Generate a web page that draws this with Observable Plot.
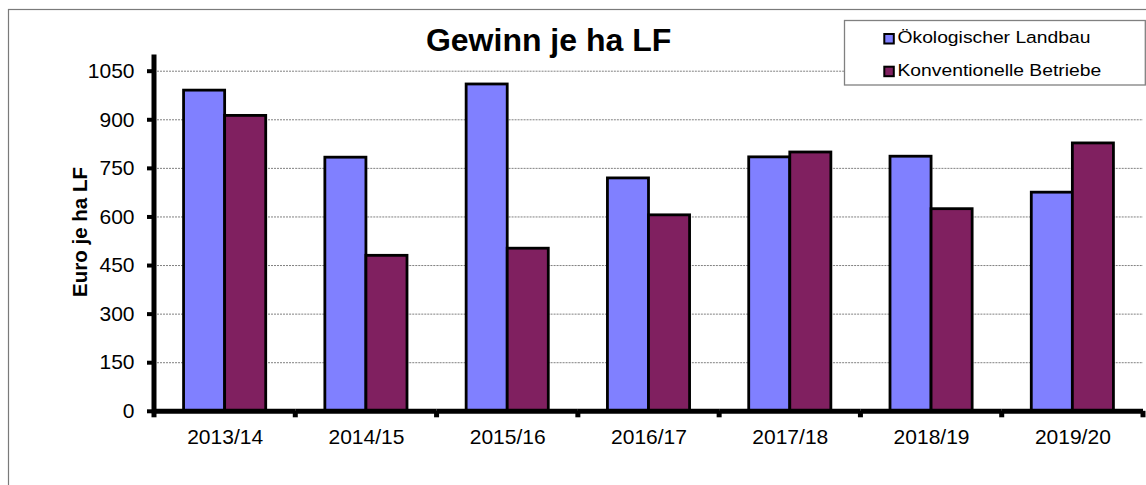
<!DOCTYPE html>
<html>
<head>
<meta charset="utf-8">
<script src="https://cdn.jsdelivr.net/npm/d3@7"></script>
<script src="https://cdn.jsdelivr.net/npm/@observablehq/plot@0.6"></script>
<style>
  html, body { margin: 0; padding: 0; background: #fff; overflow: hidden; }
  #chart { width: 1146px; height: 485px; }
</style>
</head>
<body>
<div id="chart"></div>
<script>
// ---- data ----
const years = ["2013/14", "2014/15", "2015/16", "2016/17", "2017/18", "2018/19", "2019/20"];
const oekoValues = [990, 783, 1009, 719, 784, 786, 675];
const konvValues = [912, 480, 502, 605, 799, 624, 827];
const seriesNames = ["Ökologischer Landbau", "Konventionelle Betriebe"];
const seriesColors = ["#8080FF", "#802060"];
const yTicks = [0, 150, 300, 450, 600, 750, 900, 1050];
const yMax = 1100;
const titleText = "Gewinn je ha LF";
const yLabelText = "Euro je ha LF";

const table = [];
years.forEach((yr, i) => {
  table.push({year: yr, series: seriesNames[0], value: oekoValues[i]});
  table.push({year: yr, series: seriesNames[1], value: konvValues[i]});
});

const FONT = "'Liberation Sans', Arial, Helvetica, sans-serif";

const chart = Plot.plot({
  width: 1146,
  height: 485,
  marginLeft: 154,
  marginRight: 3,
  marginTop: 54.5,
  marginBottom: 74.2,
  style: {fontFamily: FONT, fontSize: "21px", color: "black", background: "white"},
  fx: {domain: years, padding: 0, round: false, label: null},
  x: {domain: seriesNames, paddingInner: 0, paddingOuter: 0.72, round: false, axis: null},
  y: {domain: [0, yMax]},
  color: {domain: seriesNames, range: seriesColors},
  marks: [
    Plot.gridY(yTicks.filter(d => d > 0), {stroke: "#808080", strokeOpacity: 1, strokeWidth: 1, strokeDasharray: "2,1"}),
    Plot.barY(table, {fx: "year", x: "series", y: "value", fill: "series", stroke: "black", strokeWidth: 2.8}),
    Plot.ruleY([0], {stroke: "black", strokeWidth: 5}),
    Plot.axisY({ticks: yTicks, tickFormat: d => String(d), tickSize: 7, tickPadding: 13, strokeWidth: 4, fontSize: 21, label: null}),
    Plot.axisFx({anchor: "bottom", tickSize: 0, tickPadding: 18, fontSize: 21, label: null})
  ]
});

document.getElementById("chart").appendChild(chart);

// ---- decorations using Plot's scales ----
const svg = d3.select(chart);
const fx = chart.scale("fx");
const y = chart.scale("y");
const xStart = fx.apply(years[0]);
const xEnd = fx.apply(years[years.length - 1]) + fx.bandwidth;
const y0 = y.apply(0);
const yTop = y.apply(yMax);

// outer border (behind everything)
svg.insert("rect", ":first-child")
  .attr("x", 8.5).attr("y", 9.5).attr("width", 1300).attr("height", 600)
  .attr("fill", "none").attr("stroke", "#7a7a7a").attr("stroke-width", 1.2);
svg.insert("rect", ":first-child")
  .attr("x", 0).attr("y", 0).attr("width", 1146).attr("height", 485).attr("fill", "white");

// y axis line
svg.append("line")
  .attr("x1", xStart).attr("x2", xStart)
  .attr("y1", yTop).attr("y2", y0 + 2.5)
  .attr("stroke", "black").attr("stroke-width", 5);

// category boundary ticks on x axis
const bounds = years.map(d => fx.apply(d)).concat([xEnd]);
svg.append("g").selectAll("line").data(bounds).join("line")
  .attr("x1", d => d).attr("x2", d => d)
  .attr("y1", y0).attr("y2", y0 + 6.5)
  .attr("stroke", "black").attr("stroke-width", 5);

// title
svg.append("text")
  .attr("x", 548.6).attr("y", 51)
  .attr("text-anchor", "middle")
  .attr("font-family", FONT).attr("font-weight", "bold").attr("font-size", 32)
  .attr("fill", "black")
  .text(titleText);

// y axis label
svg.append("text")
  .attr("transform", `translate(87,232) rotate(-90)`)
  .attr("text-anchor", "middle")
  .attr("font-family", FONT).attr("font-weight", "bold").attr("font-size", 20.5)
  .attr("fill", "black")
  .text(yLabelText);

// legend
const color = chart.scale("color");
const lg = svg.append("g");
lg.append("rect")
  .attr("x", 844.5).attr("y", 20.5).attr("width", 300.8).attr("height", 64.5)
  .attr("fill", "white").attr("stroke", "#808080").attr("stroke-width", 1.3);
seriesNames.forEach((name, i) => {
  const baseY = 43.3 + i * 32.7;
  lg.append("rect")
    .attr("x", 884.3).attr("y", baseY - 9.3).attr("width", 9.5).attr("height", 9.5)
    .attr("fill", color.apply(name)).attr("stroke", "black").attr("stroke-width", 2);
  lg.append("text")
    .attr("transform", `translate(897.5,${baseY}) scale(1.135,1)`)
    .attr("text-anchor", "start")
    .attr("font-family", FONT).attr("font-size", 17)
    .attr("fill", "black")
    .text(name);
});
</script>
</body>
</html>
